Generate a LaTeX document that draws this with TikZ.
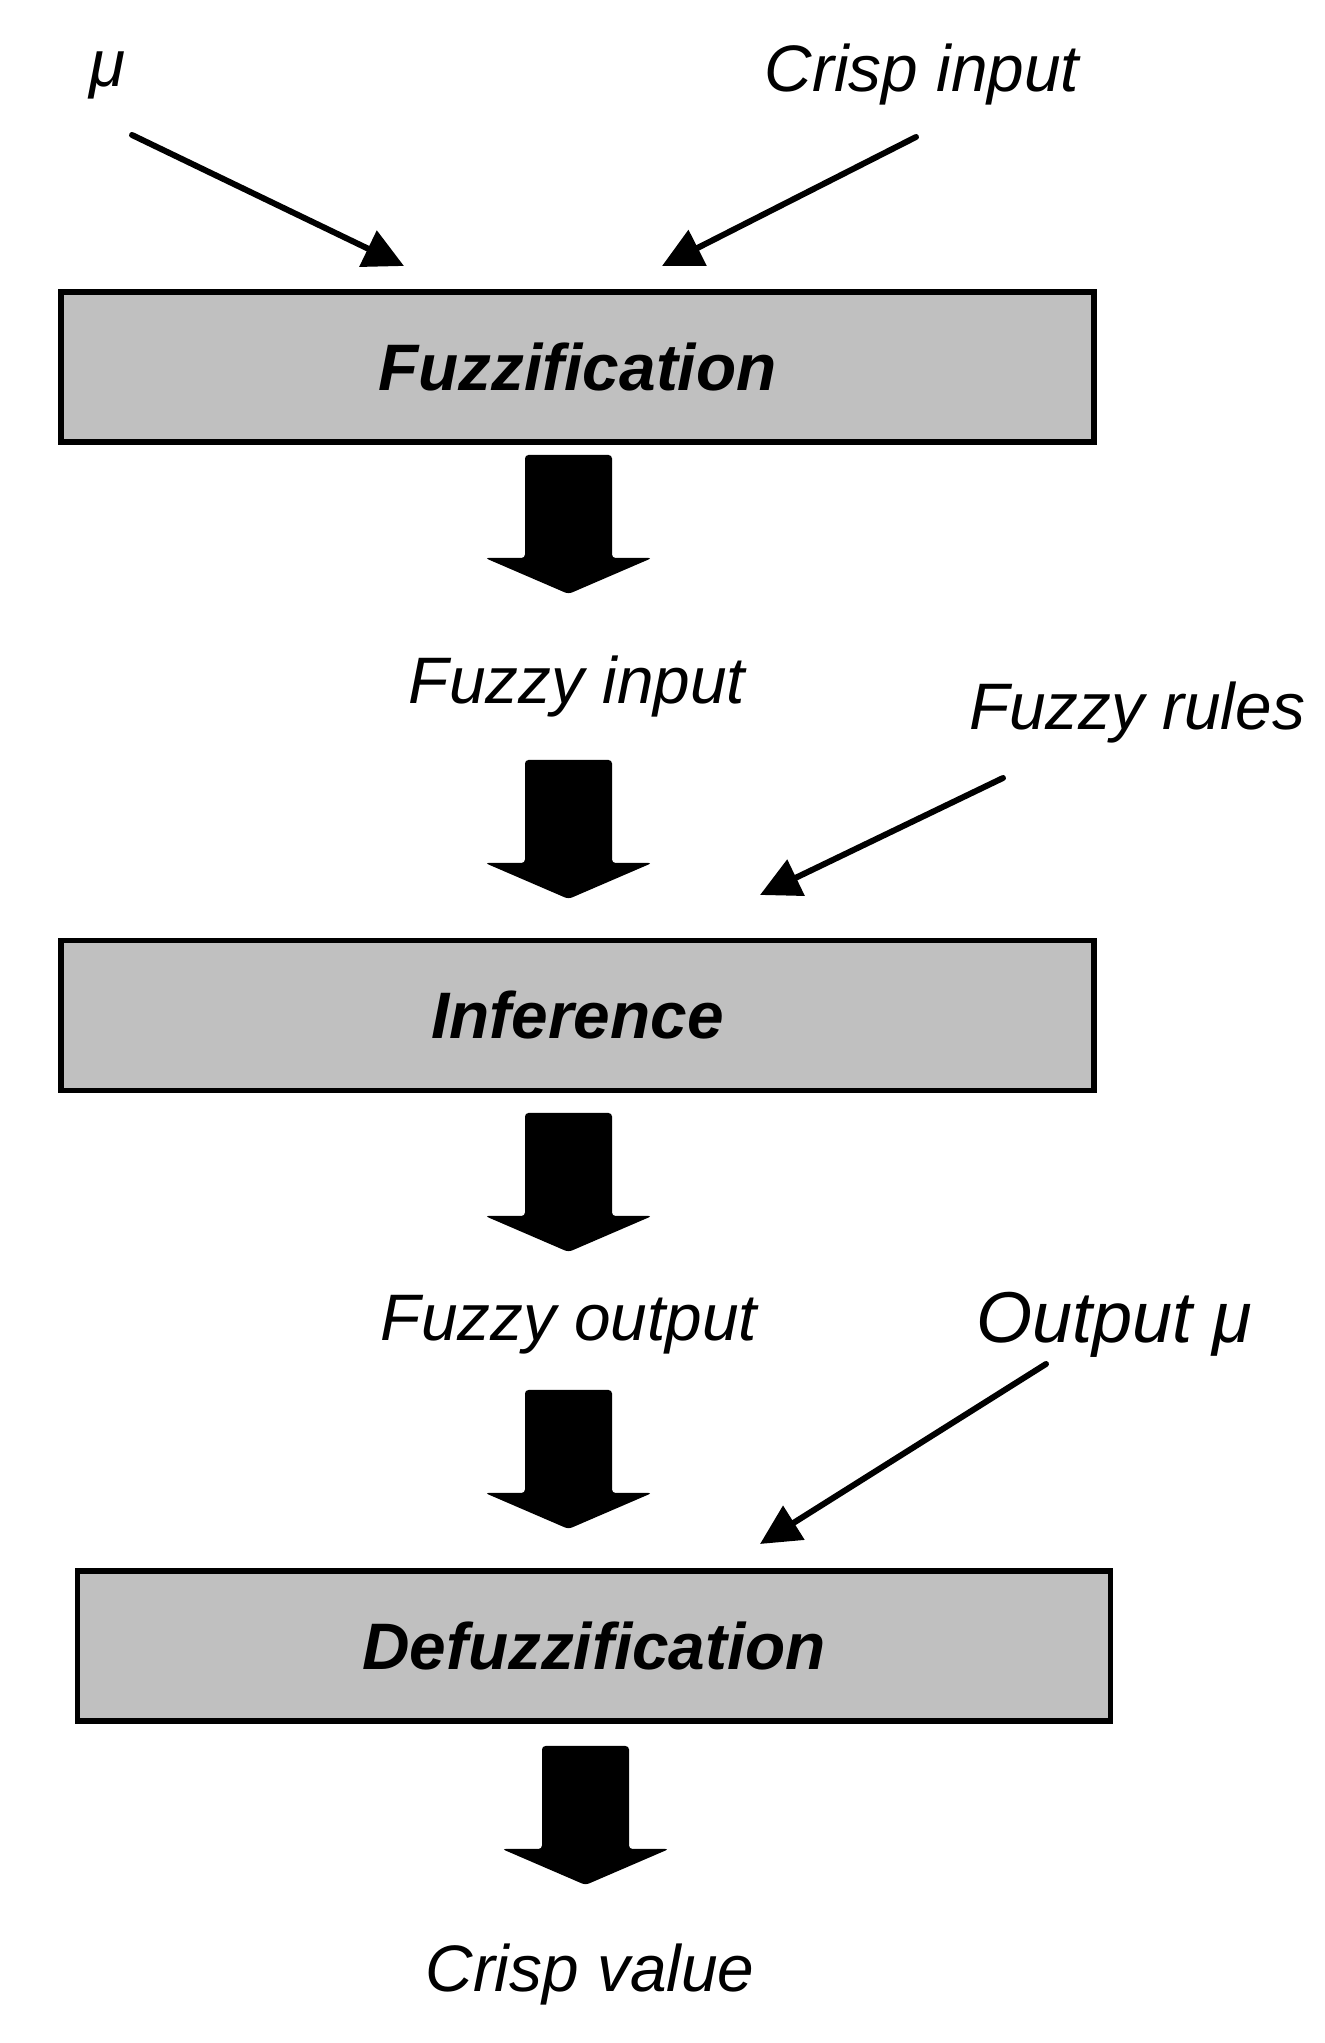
\documentclass[tikz,border=0pt]{standalone}
\usepackage{fontspec}
\setmainfont{Liberation Sans}
\usepackage{tikz}
\usetikzlibrary{arrows.meta,calc}
\usepackage{xcolor}
\definecolor{stagec}{HTML}{C0C0C0}

\tikzset{
  stage/.style={draw=black, line width=1.5pt, fill=stagec, minimum width=10.33cm,
    minimum height=1.5cm, inner sep=0pt, font=\fontsize{18.7}{22}\selectfont\bfseries\itshape},
  lbl/.style={inner sep=0pt, font=\fontsize{18.7}{22}\selectfont\itshape},
  feed/.style={line width=1.7pt, line cap=round, -{Triangle[length=0.4cm, width=0.39cm]}},
  fatarrow/.pic={
    \fill[black, rounded corners=1pt] (-0.435,0) -- (0.435,0) -- (0.435,-1.03) -- (0.835,-1.03)
      -- (0,-1.39) -- (-0.835,-1.03) -- (-0.435,-1.03) -- cycle;
  }
}

\begin{document}
\begin{tikzpicture}
  \useasboundingbox (0,0) rectangle (13.25,20.43);
  % stages
  \node[stage] (fuzz) at (5.775,16.76) {Fuzzification};
  \node[stage] (infer) at (5.775,10.275) {Inference};
  \node[stage] (defuzz) at (5.94,3.97) {Defuzzification};
  % labels
  \node[lbl] (mu) at (1.08,19.68) {μ};
  \node[lbl] (crispin) at (9.22,19.68) {Crisp input};
  \node[lbl] (fuzzyin) at (5.77,13.56) {Fuzzy input};
  \node[lbl] (rules) at (11.37,13.30) {Fuzzy rules};
  \node[lbl] (fuzzyout) at (5.69,7.18) {Fuzzy output};
  \node[lbl, font=\fontsize{20.5}{24}\selectfont\itshape] (outmu) at (11.14,7.18) {Output μ};
  \node[lbl] (crispval) at (5.90,0.68) {Crisp value};
  % block arrows
  \pic at (5.685,15.88) {fatarrow};
  \pic at (5.685,12.83) {fatarrow};
  \pic at (5.685,9.30) {fatarrow};
  \pic at (5.685,6.53) {fatarrow};
  \pic at (5.855,2.97) {fatarrow};
  % inputs
  \coordinate (mu-to) at (4.04,17.77);
  \coordinate (crispin-to) at (6.62,17.77);
  \coordinate (rules-to) at (7.60,11.48);
  \coordinate (outmu-to) at (7.60,4.99);
  \draw[feed] (mu) ++(0.24,-0.60) -- (mu-to);
  \draw[feed] (crispin) ++(-0.06,-0.62) -- (crispin-to);
  \draw[feed] (rules) ++(-1.34,-0.65) -- (rules-to);
  \draw[feed] (outmu) ++(-0.68,-0.39) -- (outmu-to);
\end{tikzpicture}
\end{document}
